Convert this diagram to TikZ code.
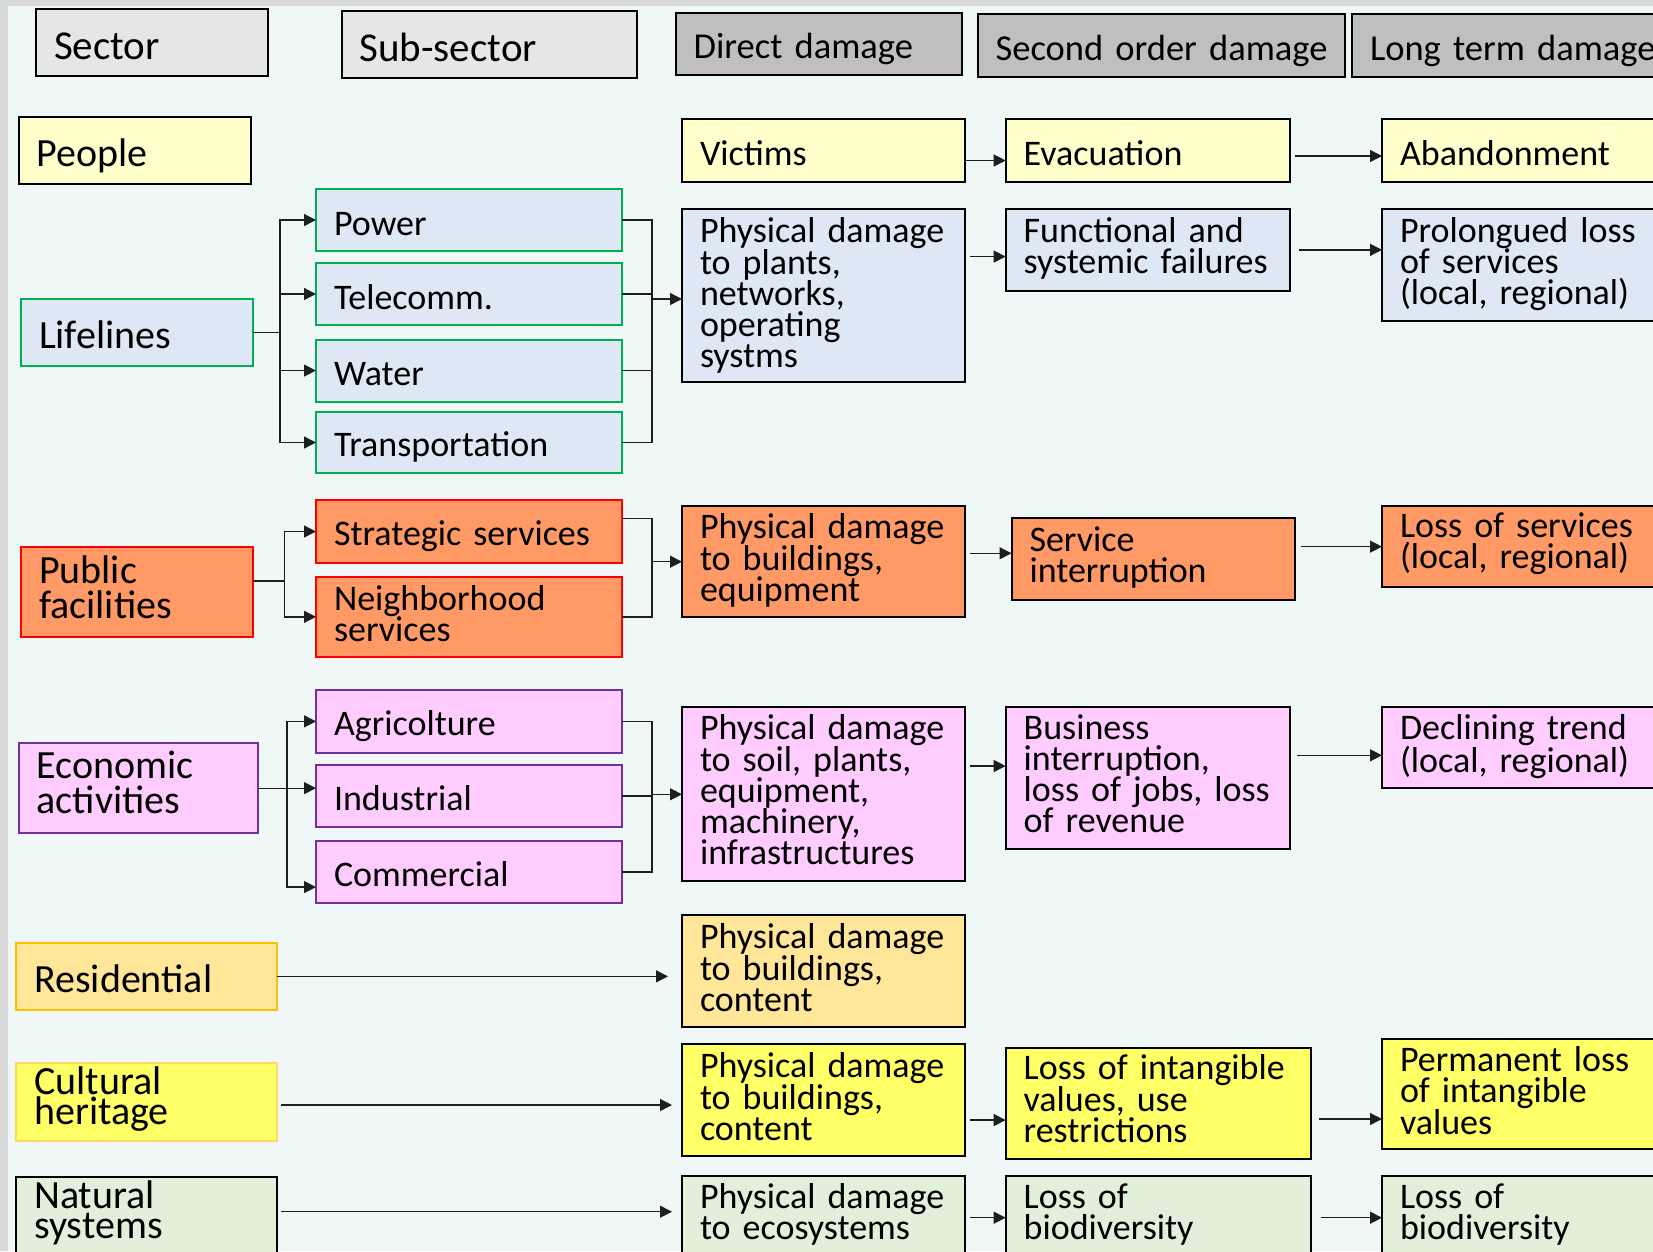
\documentclass[tikz,border=0pt]{standalone}
\usepackage{fontspec}
\setmainfont{Carlito}
\usetikzlibrary{arrows.meta}
\definecolor{bgc}{RGB}{240,248,247}
\definecolor{stripc}{RGB}{217,217,217}
\definecolor{hlight}{RGB}{230,230,230}
\definecolor{hdark}{RGB}{191,191,191}
\definecolor{peoplec}{RGB}{255,255,204}
\definecolor{lifec}{RGB}{222,232,244}
\definecolor{lifeb}{RGB}{0,176,80}
\definecolor{pubc}{RGB}{255,153,102}
\definecolor{pubb}{RGB}{255,0,0}
\definecolor{ecoc}{RGB}{255,204,255}
\definecolor{ecob}{RGB}{112,48,160}
\definecolor{resc}{RGB}{255,230,153}
\definecolor{resb}{RGB}{255,192,0}
\definecolor{culc}{RGB}{255,255,102}
\definecolor{culb}{RGB}{255,217,102}
\definecolor{natc}{RGB}{226,239,218}
\definecolor{linec}{RGB}{30,30,30}
% name, style, x1, y1, x2, y2, first baseline y, text
\newcommand\drawbox[8]{%
 \pgfmathsetmacro\bxw{#5-#3}%
 \pgfmathsetmacro\bxh{#6-#4}%
 \pgfmathsetmacro\bxt{#5-#3-36}%
 \pgfmathsetmacro\bxd{#7+2-(#4+#6)/2}%
 \pgfmathsetmacro\bxth{max(0,2*\bxd)}%
 \pgfmathsetmacro\bxtd{max(0,-2*\bxd)}%
 \node[box,#2,minimum width=\bxw pt,minimum height=\bxh pt,text width=\bxt pt,
   text height=\bxth pt,text depth=\bxtd pt] (#1) at (#3,#4) {#8};}
\tikzset{
  box/.style={draw=black, line width=2pt, rectangle, anchor=north west, outer sep=0pt,
    inner xsep=18pt, inner ysep=0pt, align=left, font=\fontsize{36}{31}\selectfont},
  hbig/.style={fill=hlight, font=\fontsize{41}{40}\selectfont},
  hsmall/.style={fill=hdark, font=\fontsize{36.5}{36}\selectfont},
  sec/.style={font=\fontsize{40}{35}\selectfont},
  secsq/.style={font=\fontsize{40}{29.5}\selectfont},
  conn/.style={draw=linec, line width=1.3pt},
  arr/.style={conn, -{Triangle[length=12pt,width=12pt]}},
}
\begin{document}
\begin{tikzpicture}[x=1pt,y=-1pt]
\clip (0,0) rectangle (1653,1251);
\fill[stripc] (0,0) rectangle (1653,1251);
\fill[bgc] (8,6) rectangle (1653,1251);
% headers
\drawbox{hsec}{hbig}{36}{9}{268}{76}{57.3}{Sector}
\drawbox{hsub}{hbig}{341.5}{11}{637}{78}{59.3}{Sub-sector}
\drawbox{hdir}{hsmall}{675.6}{13}{961.6}{75}{56.7}{Direct damage}
\drawbox{hsnd}{hsmall}{977.6}{14}{1344.8}{77}{58.3}{\mbox{Second order damage}}
\drawbox{hlong}{hsmall}{1352}{14}{1720}{77}{58.3}{Long term damage}
% people
\drawbox{people}{sec,fill=peoplec}{18.75}{117}{251}{184}{164}{People}
\drawbox{victims}{fill=peoplec}{682}{119}{965.4}{182}{163.3}{Victims}
\drawbox{evac}{fill=peoplec}{1005.7}{119}{1289.8}{182}{163.3}{Evacuation}
\drawbox{aband}{fill=peoplec}{1382}{119}{1720}{182}{163.3}{Abandonment}
% lifelines
\drawbox{lifelines}{sec,fill=lifec,draw=lifeb}{21}{299}{253}{366}{346.7}{Lifelines}
\drawbox{power}{fill=lifec,draw=lifeb}{316}{189}{622}{251}{233}{Power}
\drawbox{telecomm}{fill=lifec,draw=lifeb}{316}{263}{622}{325}{307}{Telecomm.}
\drawbox{water}{fill=lifec,draw=lifeb}{316}{339.5}{622}{401.6}{383}{Water}
\drawbox{transp}{fill=lifec,draw=lifeb}{316}{412}{622}{473}{454.5}{Transportation}
\drawbox{pdlife}{fill=lifec}{682}{209}{965.4}{381.7}{240}{Physical damage\\to plants,\\networks,\\operating\\systms}
\drawbox{func}{fill=lifec}{1005.7}{209}{1289.8}{290.7}{240}{Functional and\\systemic failures}
\drawbox{prol}{fill=lifec}{1382}{209}{1720}{321}{240}{Prolongued loss\\of services\\(local, regional)}
% public facilities
\drawbox{pubfac}{sec,fill=pubc,draw=pubb}{21}{546.7}{253}{637.3}{581}{Public\\facilities}
\drawbox{strat}{fill=pubc,draw=pubb}{316}{500}{622}{563}{543.3}{Strategic services}
\drawbox{neigh}{fill=pubc,draw=pubb}{316}{577}{622}{656.7}{608}{Neighborhood\\services}
\drawbox{pdpub}{fill=pubc}{682}{506}{965.4}{617.3}{536}{Physical damage\\to buildings,\\equipment}
\drawbox{servint}{fill=pubc}{1011.5}{517.7}{1295}{600}{549}{Service\\interruption}
\drawbox{losserv}{fill=pubc}{1382}{506}{1720}{587.3}{535.5}{Loss of services\\(local, regional)}
% economic
\drawbox{ecoact}{sec,fill=ecoc,draw=ecob}{18.75}{743}{258}{833.3}{776.7}{Economic\\activities}
\drawbox{agri}{fill=ecoc,draw=ecob}{316}{690}{622}{752.7}{733.3}{Agricolture}
\drawbox{industrial}{fill=ecoc,draw=ecob}{316}{765}{622}{826.7}{808.3}{Industrial}
\drawbox{commercial}{fill=ecoc,draw=ecob}{316}{841}{622}{902.7}{884.3}{Commercial}
\drawbox{pdeco}{fill=ecoc}{682}{707.3}{965.4}{880.7}{737.3}{Physical damage\\to soil, plants,\\equipment,\\machinery,\\infrastructures}
\drawbox{busint}{fill=ecoc}{1005.7}{707.3}{1289.8}{849.3}{737.3}{Business\\interruption,\\loss of jobs, loss\\of revenue}
\drawbox{dtrend}{fill=ecoc}{1382}{707.3}{1720}{788.3}{737.3}{Declining trend\\(local, regional)}
% residential
\drawbox{resid}{sec,fill=resc,draw=resb}{16.3}{942.7}{276.5}{1010}{990.7}{Residential}
\drawbox{pdres}{fill=resc}{682}{915}{965.4}{1026.7}{946}{Physical damage\\to buildings,\\content}
% cultural heritage
\drawbox{cultural}{secsq,fill=culc,draw=culb}{16.3}{1062.7}{276.5}{1140.7}{1092.5}{Cultural\\heritage}
\drawbox{pdcul}{fill=culc}{682}{1044.3}{965.4}{1156}{1075}{Physical damage\\to buildings,\\content}
\drawbox{loi}{fill=culc}{1005.7}{1047.7}{1311}{1159}{1077.5}{Loss of intangible\\values, use\\restrictions}
\drawbox{perm}{fill=culc}{1382}{1038.7}{1720}{1149.3}{1069}{Permanent loss\\of intangible\\values}
% natural systems
\drawbox{natural}{secsq,fill=natc}{16.3}{1176.7}{276.5}{1262}{1206.5}{Natural\\systems}
\drawbox{pdnat}{fill=natc}{682}{1176}{965.4}{1262}{1206.5}{Physical damage\\to ecosystems}
\drawbox{lob}{fill=natc}{1005.7}{1176}{1311}{1262}{1206.5}{Loss of\\biodiversity}
\drawbox{lobl}{fill=natc}{1382}{1176}{1720}{1262}{1206.5}{Loss of\\biodiversity}
% ---- connectors ----
% people
\coordinate (pv) at ([yshift=-10pt]evac.west);
\draw[arr] (victims.east |- pv) -- (pv);
\draw[arr, shorten <=5pt] ([yshift=-5.5pt]evac.east) -- ([yshift=-5.5pt]aband.west);
% lifelines
\coordinate (ltr) at (280,335);
\foreach \n in {power,telecomm,water,transp}
  \draw[arr] (lifelines.east) -- (lifelines.east -| ltr) |- (\n.west);
\coordinate (lrm) at (652,299);
\foreach \n in {power,telecomm,water,transp}
  \draw[conn] (\n.east) -| (lrm);
\draw[arr] (lrm) -- (lrm -| pdlife.west);
\coordinate (c1) at ([yshift=-6.7pt]func.west);
\draw[arr, shorten <=5pt] (c1 -| pdlife.east) -- (c1);
\draw[arr, shorten <=9pt] (func.east) -- (func.east -| prol.west);
% public facilities
\coordinate (ptr) at (284.4,581);
\draw[arr] (ptr -| pubfac.east) -- (ptr) |- (strat.west);
\draw[arr] (ptr -| pubfac.east) -- (ptr) |- (neigh.west);
\coordinate (prm) at (652,561.7);
\draw[conn] ([yshift=12.8pt]strat.east) -| (prm);
\draw[conn] (neigh.east) -| (prm);
\draw[arr] (prm) -- (prm -| pdpub.west);
\coordinate (c2) at ([yshift=5.6pt]servint.west);
\draw[arr, shorten <=5pt] (c2 -| pdpub.east) -- (c2);
\draw[arr, shorten <=6pt] (losserv.west -| servint.east) -- (losserv.west);
% economic
\coordinate (etr) at (287,788.7);
\coordinate (c3) at ([yshift=-15.2pt]commercial.west);
\draw[arr] (ecoact.east) -- (ecoact.east -| etr) |- (agri.west);
\draw[arr] (ecoact.east) -- (ecoact.east -| industrial.west);
\draw[arr] (ecoact.east) -- (ecoact.east -| etr) |- (c3);
\coordinate (erm) at (652,794.3);
\foreach \n in {agri,industrial,commercial}
  \draw[conn] (\n.east) -| (erm);
\draw[arr] (erm) -- (erm -| pdeco.west);
\coordinate (c4) at ([yshift=12.3pt]busint.west);
\draw[arr, shorten <=5pt] (c4 -| pdeco.east) -- (c4);
\coordinate (c5) at ([yshift=-7.5pt]dtrend.west);
\draw[arr, shorten <=7pt] (c5 -| busint.east) -- (c5);
% residential
\draw[arr, shorten >=14pt] (resid.east) -- (resid.east -| pdres.west);
% cultural
\coordinate (c6) at ([yshift=-3.3pt]cultural.east);
\draw[arr, shorten <=4pt, shorten >=10pt] (c6) -- (c6 -| pdcul.west);
\coordinate (c7) at ([yshift=-16.7pt]loi.west);
\draw[arr, shorten <=5pt] (c7 -| pdcul.east) -- (c7);
\coordinate (c8) at ([yshift=-25pt]perm.west);
\draw[arr, shorten <=7.6pt] (c8 -| loi.east) -- (c8);
% natural
\coordinate (c9) at (0,1211.7);
\draw[arr, shorten <=4pt, shorten >=10pt] (natural.east |- c9) -- (pdnat.west |- c9);
\coordinate (c10) at (0,1217.7);
\draw[arr, shorten <=5pt] (pdnat.east |- c10) -- (lob.west |- c10);
\draw[arr, shorten <=9.5pt] (lob.east |- c10) -- (lobl.west |- c10);
\end{tikzpicture}
\end{document}
